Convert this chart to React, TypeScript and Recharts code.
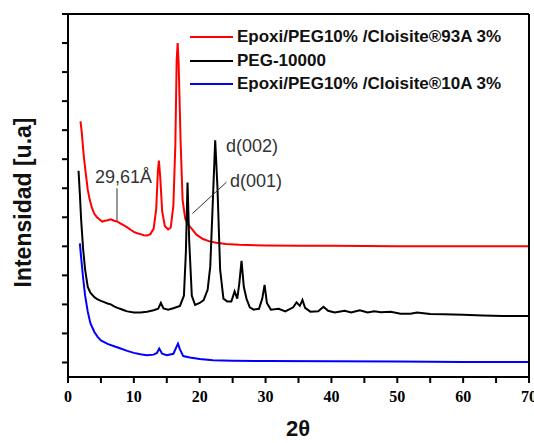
import React from 'react';
import { LineChart, Line, XAxis, YAxis, ReferenceLine } from 'recharts';

// 2θ / intensidad (unidades arbitrarias, desplazadas)
const twoTheta93A = [1.9, 2.1, 2.4, 2.7, 3.0, 3.3, 3.6, 4.0, 4.4, 4.8, 5.2, 5.6, 6.0, 6.5, 7.0, 7.5, 8.0, 8.5, 9.0, 9.5, 10.0, 10.5, 11.0, 11.5, 12.0, 12.5, 13.0, 13.4, 13.65, 13.8, 14.0, 14.3, 14.7, 15.2, 15.6, 16.0, 16.3, 16.5, 16.65, 16.8, 17.1, 17.4, 17.8, 18.2, 18.8, 19.5, 20.5, 21.5, 22.5, 24, 26, 30, 35, 40, 50, 60, 70];
const intensity93A = [8.3, 7.9, 7.1, 6.5, 5.95, 5.6, 5.35, 5.12, 5.0, 4.92, 4.85, 4.88, 4.9, 4.93, 4.88, 4.85, 4.78, 4.72, 4.65, 4.57, 4.5, 4.45, 4.42, 4.38, 4.37, 4.42, 4.6, 5.3, 6.6, 6.95, 6.4, 5.2, 4.7, 4.58, 4.65, 5.4, 7.5, 10.4, 11.0, 10.3, 7.6, 5.6, 4.95, 4.75, 4.6, 4.4, 4.25, 4.17, 4.12, 4.08, 4.05, 4.03, 4.02, 4.02, 4.0, 4.0, 4.0];

const twoThetaPEG = [1.6, 1.8, 2.0, 2.3, 2.6, 3.0, 3.4, 4.0, 4.5, 5.0, 5.5, 6.0, 6.5, 7.0, 7.5, 8.0, 8.5, 9.0, 10.0, 11.0, 12.0, 13.0, 13.7, 14.1, 14.5, 15.2, 16.0, 17.0, 17.6, 17.9, 18.15, 18.4, 18.8, 19.3, 20.0, 20.6, 21.2, 21.6, 22.0, 22.35, 22.7, 23.1, 23.6, 24.2, 24.8, 25.3, 25.7, 26.0, 26.35, 26.7, 27.1, 27.6, 28.2, 29.0, 29.5, 29.85, 30.2, 30.8, 32.0, 33.0, 34.2, 34.7, 35.2, 35.6, 36.0, 36.8, 38.0, 38.8, 39.5, 40.5, 42.0, 43.0, 44.3, 45.5, 46.5, 47.5, 49.0, 50.5, 52.0, 53.0, 55.0, 57.0, 60.0, 63.0, 66.0, 70.0];
const intensityPEG = [6.6, 5.8, 4.9, 3.9, 3.2, 2.6, 2.4, 2.25, 2.17, 2.12, 2.08, 2.03, 2.0, 1.93, 1.88, 1.84, 1.8, 1.76, 1.72, 1.72, 1.75, 1.8, 1.85, 2.05, 1.86, 1.82, 1.87, 1.95, 2.3, 3.8, 6.2, 4.2, 2.3, 1.98, 2.05, 2.15, 2.5, 3.3, 5.6, 7.65, 6.0, 3.2, 2.2, 2.1, 2.1, 2.45, 2.2, 2.7, 3.5, 2.6, 2.2, 1.9, 1.82, 1.85, 2.2, 2.67, 2.05, 1.82, 1.85, 1.76, 1.9, 2.07, 1.95, 2.15, 1.88, 1.75, 1.76, 1.92, 1.78, 1.72, 1.78, 1.72, 1.8, 1.72, 1.76, 1.73, 1.75, 1.68, 1.68, 1.72, 1.67, 1.66, 1.64, 1.62, 1.6, 1.6];

const twoTheta10A = [1.8, 2.0, 2.3, 2.6, 3.0, 3.4, 4.0, 4.5, 5.0, 6.0, 7.0, 8.0, 9.0, 10.0, 11.0, 12.0, 13.0, 13.5, 13.85, 14.3, 15.0, 16.0, 16.4, 16.7, 17.0, 17.5, 18.5, 20, 22, 25, 30, 40, 50, 60, 70];
const intensity10A = [4.1, 3.6, 2.9, 2.3, 1.75, 1.35, 1.05, 0.88, 0.76, 0.64, 0.56, 0.48, 0.4, 0.33, 0.28, 0.25, 0.27, 0.33, 0.48, 0.3, 0.25, 0.3, 0.5, 0.65, 0.45, 0.22, 0.17, 0.12, 0.08, 0.06, 0.05, 0.04, 0.03, 0.02, 0.02];

const seriesNames = ['Epoxi/PEG10% /Cloisite®93A 3%', 'PEG-10000', 'Epoxi/PEG10% /Cloisite®10A 3%'];
const seriesColors = ['#ff0000', '#000000', '#0000ff'];

const xTicks = [0, 5, 10, 15, 20, 25, 30, 35, 40, 45, 50, 55, 60, 65, 70];
const yTicks = [0, 1, 2, 3, 4, 5, 6, 7, 8, 9, 10, 11, 12];
const mirrorTicks = [0, 1, 2, 3, 4, 5, 6, 7, 8, 9, 10];

// líneas guía de las anotaciones (2θ, intensidad)
const leader2961 = [{ x: 7.44, y: 6.0 }, { x: 7.44, y: 4.88 }];
const leaderD001 = [{ x: 18.9, y: 5.13 }, { x: 24.07, y: 6.21 }];

const zip = (xs: number[], ys: number[]) => xs.map((x, i) => ({ x, y: ys[i] }));
const allSeries = [zip(twoTheta93A, intensity93A), zip(twoThetaPEG, intensityPEG), zip(twoTheta10A, intensity10A)];

const FONT = 'Arial, "Liberation Sans", sans-serif';
const W = 534;
const H = 443;
const blank = () => '';

const abs = (left: number, top: number, extra: React.CSSProperties = {}): React.CSSProperties => ({
  position: 'absolute', left, top, whiteSpace: 'nowrap', fontFamily: FONT, ...extra,
});

export default function App() {
  return (
    <div style={{ position: 'absolute', left: 0, top: 0, width: W, height: H, background: '#fff' }}>
      <LineChart width={W} height={H} margin={{ top: 14, right: 5, bottom: 0, left: 0 }}>
        <XAxis
          xAxisId="bottom"
          dataKey="x"
          type="number"
          domain={[0, 70]}
          ticks={xTicks}
          interval={0}
          tickFormatter={(v: number) => (v % 10 === 0 ? String(v) : '')}
          tick={{ fill: '#000', fontSize: 16, fontWeight: 'bold' }}
          stroke="#000"
          strokeWidth={2}
          tickSize={6}
          tickMargin={8}
          height={66}
        />
        <XAxis
          xAxisId="top"
          orientation="top"
          mirror
          type="number"
          domain={[0, 10]}
          ticks={mirrorTicks}
          interval={0}
          tickFormatter={blank}
          stroke="#000"
          strokeWidth={2}
          tickSize={6}
          height={1}
        />
        <YAxis
          yAxisId="left"
          type="number"
          domain={[-0.5, 12]}
          ticks={yTicks}
          interval={0}
          tickFormatter={blank}
          stroke="#000"
          strokeWidth={2}
          tickSize={6}
          width={68}
        />
        <YAxis
          yAxisId="right"
          orientation="right"
          mirror
          type="number"
          domain={[0, 10]}
          ticks={mirrorTicks}
          interval={0}
          tickFormatter={blank}
          stroke="#000"
          strokeWidth={2}
          tickSize={6}
          width={1}
        />
        {allSeries.map((d, i) => (
          <Line
            key={seriesNames[i]}
            xAxisId="bottom"
            yAxisId="left"
            data={d}
            dataKey="y"
            type="linear"
            stroke={seriesColors[i]}
            strokeWidth={2}
            dot={false}
            isAnimationActive={false}
          />
        ))}
        <ReferenceLine xAxisId="bottom" yAxisId="left" segment={leader2961} stroke="#333" strokeWidth={1} />
        <ReferenceLine xAxisId="bottom" yAxisId="left" segment={leaderD001} stroke="#333" strokeWidth={1} />
      </LineChart>

      {/* leyenda */}
      {seriesNames.map((name, i) => (
        <React.Fragment key={name}>
          <div style={abs(190, 36 + i * 23.5, { width: 43, height: 2, background: seriesColors[i] })} />
          <div style={abs(237, 27 + i * 23.5, { height: 20, lineHeight: '20px', fontSize: 17, fontWeight: 'bold', color: '#111' })}>
            {name}
          </div>
        </React.Fragment>
      ))}

      {/* anotaciones */}
      <div style={abs(95, 168, { fontSize: 18, lineHeight: '18px', color: '#333' })}>29,61Å</div>
      <div style={abs(226, 137, { fontSize: 18, lineHeight: '18px', color: '#333' })}>d(002)</div>
      <div style={abs(230, 172, { fontSize: 18, lineHeight: '18px', color: '#333' })}>d(001)</div>

      {/* títulos de ejes */}
      <div style={abs(248, 418, { width: 100, textAlign: 'center', fontSize: 22, lineHeight: '22px', fontWeight: 'bold', color: '#111' })}>
        2θ
      </div>
      <div
        style={abs(-127, 190.5, {
          width: 300, height: 23, textAlign: 'center', fontSize: 23, lineHeight: '23px', fontWeight: 'bold', color: '#111',
          transform: 'rotate(-90deg)',
        })}
      >
        Intensidad [u.a]
      </div>
    </div>
  );
}
